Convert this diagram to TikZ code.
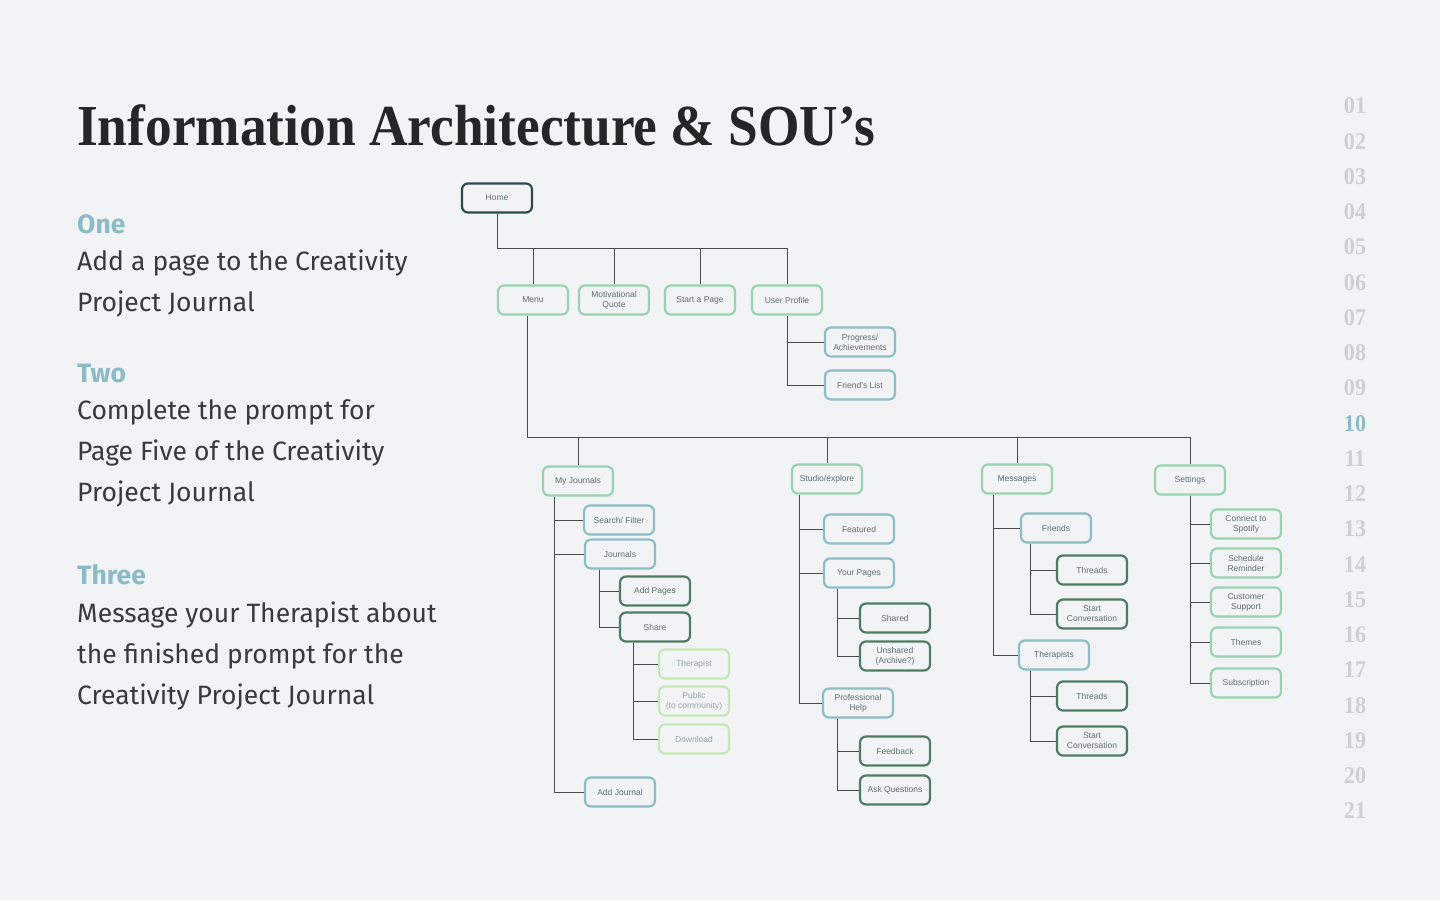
\documentclass[tikz,border=0pt]{standalone}
\usepackage{fontspec}
\usepackage{tikz}
\usetikzlibrary{positioning,calc}
\setmainfont{Fira Sans}
\newfontfamily\titlefont[FakeStretch=0.92]{Liberation Serif}
\newfontfamily\nodefont{Liberation Sans}

\definecolor{pagebg}{HTML}{F1F3F5}
\definecolor{homeline}{HTML}{2B4A4C}
\definecolor{mint}{HTML}{98D2B3}
\definecolor{steel}{HTML}{8FBDC7}
\definecolor{pine}{HTML}{4F7A66}
\definecolor{lime}{HTML}{C4E8B4}
\definecolor{nodetext}{HTML}{5E6E6B}
\definecolor{limetext}{HTML}{95A59C}
\definecolor{wirecol}{HTML}{4A4A4A}
\definecolor{headcol}{HTML}{8CBBC5}
\definecolor{bodytext}{HTML}{3A3A3A}
\definecolor{pagenum}{HTML}{CFCFCF}

\begin{document}
\begin{tikzpicture}[x=1pt, y=-1pt,
    box/.style={fill=pagebg, line width=2.2pt, rounded corners=6pt, minimum width=70pt, minimum height=29pt,
                inner sep=1pt, align=center, text=nodetext, font=\nodefont\fontsize{8.5}{10}\selectfont},
    homebox/.style={box, draw=homeline},
    mintbox/.style={box, draw=mint},
    steelbox/.style={box, draw=steel},
    pinebox/.style={box, draw=pine},
    limebox/.style={box, draw=lime, text=limetext},
    wire/.style={draw=wirecol, line width=1pt},
    head/.style={anchor=base west, inner sep=0pt, text=headcol, font=\bfseries\fontsize{26.5}{41}\selectfont},
    body/.style={anchor=base west, inner sep=0pt, align=left, text=bodytext, font=\fontsize{26.5}{41}\selectfont}]

    % page
    \fill[pagebg] (0,0) rectangle (1440,900);

    % title
    \node[anchor=base west, inner sep=0pt, text=black!85, font=\titlefont\bfseries\fontsize{58}{60}\selectfont] (title) at (77,145) {Information Architecture \& SOU’s};

    % left column (body nodes sit on the baseline of their last line)
    \node[head] (one) at (77,233) {One};
    \node[body] (onetxt) at (77,311) {Add a page to the Creativity\\Project Journal};
    \node[head] (two) at (77,382) {Two};
    \node[body] (twotxt) at (77,501) {Complete the prompt for\\Page Five of the Creativity\\Project Journal};
    \node[head] (three) at (77,584) {Three};
    \node[body] (threetxt) at (77,704) {Message your Therapist about\\the finished prompt for the\\Creativity Project Journal};

    % page numbers
    \foreach \i in {1,...,21}{
        \ifnum\i=10 \def\numcol{headcol}\else\def\numcol{pagenum}\fi
        \node[text=\numcol, font=\titlefont\bfseries\fontsize{24}{24}\selectfont] (num\i) at (1355,{106+(\i-1)*35.25}) {\ifnum\i<10 0\fi\i};
    }

    % top level
    \node[homebox] (home) at (497,198) {Home};
    \node[mintbox] (menu) at (533,300) {Menu};
    \node[mintbox] (quote) at (614,300) {Motivational\\Quote};
    \node[mintbox] (start) at (700,300) {Start a Page};
    \node[mintbox] (user) at (787,300) {User Profile};
    \node[steelbox] (prog) at (860,342) {Progress/\\Achievements};
    \node[steelbox] (frnd) at (860,385) {Friend’s List};

    \coordinate (bus1) at (0,248);
    \foreach \n in {menu,quote,start,user}
        \draw[wire] (home.south) |- (bus1 -| \n.north) -- (\n.north);
    \draw[wire] (user.south) |- (prog.west);
    \draw[wire] (user.south) |- (frnd.west);

    % menu level
    \node[mintbox] (mj) at (578,481) {My Journals};
    \node[mintbox] (stud) at (827,479) {Studio/explore};
    \node[mintbox] (msg) at (1017,479) {Messages};
    \node[mintbox] (set) at (1190,480) {Settings};

    \coordinate (bus2) at (0,437);
    \draw[wire] ([xshift=-6pt]menu.south) |- (bus2 -| set.north) -- (set.north);
    \foreach \n in {mj,stud,msg}
        \draw[wire] (bus2 -| \n.north) -- (\n.north);

    % My Journals
    \node[steelbox] (srch) at (619,520) {Search/ Filter};
    \node[steelbox] (jrnl) at (620,554) {Journals};
    \node[pinebox] (addp) at (655,591) {Add Pages};
    \node[pinebox] (share) at (655,627) {Share};
    \node[limebox] (ther) at (694,664) {Therapist};
    \node[limebox] (pub) at (694,701) {Public\\(to community)};
    \node[limebox] (down) at (694,739) {Download};
    \node[steelbox] (addj) at (620,792) {Add Journal};

    \foreach \n in {srch,jrnl,addj}
        \draw[wire] ([xshift=13pt]mj.south west) |- (\n.west);
    \foreach \n in {addp,share}
        \draw[wire] ([xshift=16pt]jrnl.south west) |- (\n.west);
    \foreach \n in {ther,pub,down}
        \draw[wire] ([xshift=15pt]share.south west) |- (\n.west);

    % Studio/explore
    \node[steelbox] (feat) at (859,529) {Featured};
    \node[steelbox] (yp) at (859,573) {Your Pages};
    \node[pinebox] (shd) at (895,618) {Shared};
    \node[pinebox] (unsh) at (895,656) {Unshared\\(Archive?)};
    \node[steelbox] (ph) at (858,703) {Professional\\Help};
    \node[pinebox] (fb) at (895,751) {Feedback};
    \node[pinebox] (askq) at (895,790) {Ask Questions};

    \foreach \n in {feat,yp,ph}
        \draw[wire] ([xshift=9pt]stud.south west) |- (\n.west);
    \foreach \n in {shd,unsh}
        \draw[wire] ([xshift=15pt]yp.south west) |- (\n.west);
    \foreach \n in {fb,askq}
        \draw[wire] ([xshift=16pt]ph.south west) |- (\n.west);

    % Messages
    \node[steelbox] (fr) at (1056,528) {Friends};
    \node[pinebox] (thra) at (1092,570) {Threads};
    \node[pinebox] (conva) at (1092,614) {Start\\Conversation};
    \node[steelbox] (thp) at (1054,655) {Therapists};
    \node[pinebox] (thrb) at (1092,696) {Threads};
    \node[pinebox] (convb) at (1092,741) {Start\\Conversation};

    \foreach \n in {fr,thp}
        \draw[wire] ([xshift=13pt]msg.south west) |- (\n.west);
    \foreach \n in {thra,conva}
        \draw[wire] ([xshift=11pt]fr.south west) |- (\n.west);
    \foreach \n in {thrb,convb}
        \draw[wire] ([xshift=13pt]thp.south west) |- (\n.west);

    % Settings
    \node[mintbox] (spot) at (1246,524) {Connect to\\Spotify};
    \node[mintbox] (sched) at (1246,563) {Schedule\\Reminder};
    \node[mintbox] (cust) at (1246,602) {Customer\\Support};
    \node[mintbox] (them) at (1246,642) {Themes};
    \node[mintbox] (subs) at (1246,683) {Subscription};

    \foreach \n in {spot,sched,cust,them,subs}
        \draw[wire] (set.south) |- (\n.west);
\end{tikzpicture}
\end{document}
